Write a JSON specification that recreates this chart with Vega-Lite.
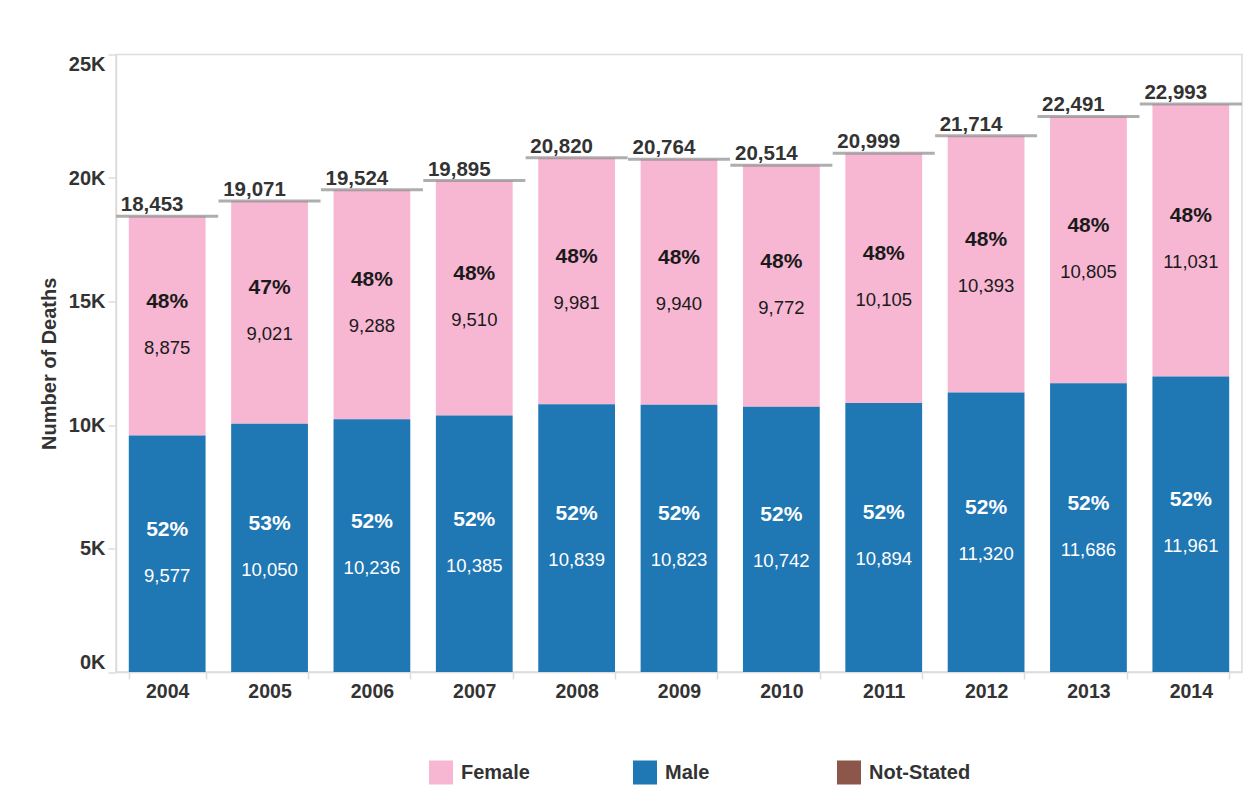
{
  "$schema": "https://vega.github.io/schema/vega-lite/v6.json",
  "width": 1126,
  "height": 617.5,
  "autosize": "none",
  "padding": {"left": 116, "top": 54.5, "right": 7, "bottom": 134},
  "background": "white",
  "config": {
    "font": "Liberation Sans",
    "view": {"stroke": "#dcdcdc", "strokeWidth": 1.5},
    "axis": {"labelColor": "#333333", "titleColor": "#333333", "labelFontWeight": "bold", "titleFontWeight": "bold", "domainColor": "#dcdcdc", "tickColor": "#dcdcdc", "domainWidth": 1.5, "tickWidth": 1.5, "grid": false}
  },
  "datasets": {
    "segments": [
      {"year": "2004", "sex": "Female", "count": 8875, "pct": "48%"},
      {"year": "2004", "sex": "Male", "count": 9577, "pct": "52%"},
      {"year": "2005", "sex": "Female", "count": 9021, "pct": "47%"},
      {"year": "2005", "sex": "Male", "count": 10050, "pct": "53%"},
      {"year": "2006", "sex": "Female", "count": 9288, "pct": "48%"},
      {"year": "2006", "sex": "Male", "count": 10236, "pct": "52%"},
      {"year": "2007", "sex": "Female", "count": 9510, "pct": "48%"},
      {"year": "2007", "sex": "Male", "count": 10385, "pct": "52%"},
      {"year": "2008", "sex": "Female", "count": 9981, "pct": "48%"},
      {"year": "2008", "sex": "Male", "count": 10839, "pct": "52%"},
      {"year": "2009", "sex": "Female", "count": 9940, "pct": "48%"},
      {"year": "2009", "sex": "Male", "count": 10823, "pct": "52%"},
      {"year": "2010", "sex": "Female", "count": 9772, "pct": "48%"},
      {"year": "2010", "sex": "Male", "count": 10742, "pct": "52%"},
      {"year": "2011", "sex": "Female", "count": 10105, "pct": "48%"},
      {"year": "2011", "sex": "Male", "count": 10894, "pct": "52%"},
      {"year": "2012", "sex": "Female", "count": 10393, "pct": "48%"},
      {"year": "2012", "sex": "Male", "count": 11320, "pct": "52%"},
      {"year": "2013", "sex": "Female", "count": 10805, "pct": "48%"},
      {"year": "2013", "sex": "Male", "count": 11686, "pct": "52%"},
      {"year": "2014", "sex": "Female", "count": 11031, "pct": "48%"},
      {"year": "2014", "sex": "Male", "count": 11961, "pct": "52%"}
    ],
    "totals": [
      {"year": "2004", "total": 18453},
      {"year": "2005", "total": 19071},
      {"year": "2006", "total": 19524},
      {"year": "2007", "total": 19895},
      {"year": "2008", "total": 20820},
      {"year": "2009", "total": 20764},
      {"year": "2010", "total": 20514},
      {"year": "2011", "total": 20999},
      {"year": "2012", "total": 21714},
      {"year": "2013", "total": 22491},
      {"year": "2014", "total": 22993}
    ]
  },
  "encoding": {
    "x": {
      "field": "year", "type": "ordinal",
      "scale": {"paddingInner": 0.25, "paddingOuter": 0.125},
      "axis": {"title": null, "labelAngle": 0, "labelFontSize": 19.5, "labelPadding": 3, "tickBand": "extent", "tickSize": 7}
    }
  },
  "layer": [
    {
      "data": {"name": "segments"},
      "mark": {"type": "bar"},
      "encoding": {
        "y": {
          "field": "count", "type": "quantitative", "stack": "zero",
          "scale": {"domain": [0, 25000], "nice": false},
          "axis": {"title": "Number of Deaths", "titleFontSize": 20, "titlePadding": 9, "labelFontSize": 20, "values": [0, 5000, 10000, 15000, 20000, 25000], "labelExpr": "(datum.value/1000) + 'K'", "labelFlush": true, "tickSize": 8, "labelPadding": 3}
        },
        "color": {
          "field": "sex", "type": "nominal",
          "scale": {"domain": ["Female", "Male", "Not-Stated"], "range": ["#f7b6d2", "#1f77b4", "#8c564b"]},
          "legend": {"title": null, "orient": "none", "legendX": 313, "legendY": 706, "direction": "horizontal", "columns": 3, "gridAlign": "all", "columnPadding": 70, "symbolType": "square", "symbolSize": 576, "symbolStrokeWidth": 0, "labelFontSize": 20, "labelFontWeight": "bold", "labelColor": "#333333", "labelOffset": 8}
        },
        "order": {"field": "sex", "sort": "descending"}
      }
    },
    {
      "data": {"name": "totals"},
      "mark": {"type": "tick", "size": 102, "thickness": 3, "color": "#8c8c8c"},
      "encoding": {
        "y": {"field": "total", "type": "quantitative"}
      }
    },
    {
      "data": {"name": "totals"},
      "mark": {"type": "text", "align": "left", "baseline": "alphabetic", "dx": -8, "dy": -5, "fontSize": 20.5, "fontWeight": "bold", "color": "#333333"},
      "encoding": {
        "x": {"field": "year", "type": "ordinal", "bandPosition": 0},
        "y": {"field": "total", "type": "quantitative"},
        "text": {"field": "total", "type": "quantitative", "format": ","}
      }
    },
    {
      "data": {"name": "segments"},
      "transform": [
        {"stack": "count", "groupby": ["year"], "sort": [{"field": "sex", "order": "descending"}], "as": ["y0", "y1"]},
        {"calculate": "(datum.y0 + datum.y1) / 2", "as": "mid"}
      ],
      "mark": {"type": "text", "baseline": "middle", "dy": -24, "fontSize": 21, "fontWeight": "bold"},
      "encoding": {
        "y": {"field": "mid", "type": "quantitative"},
        "text": {"field": "pct"},
        "color": {"condition": {"test": "datum.sex === 'Male'", "value": "#ffffff"}, "value": "#1a1a1a"}
      }
    },
    {
      "data": {"name": "segments"},
      "transform": [
        {"stack": "count", "groupby": ["year"], "sort": [{"field": "sex", "order": "descending"}], "as": ["y0", "y1"]},
        {"calculate": "(datum.y0 + datum.y1) / 2", "as": "mid"}
      ],
      "mark": {"type": "text", "baseline": "middle", "dy": 22, "fontSize": 18.5},
      "encoding": {
        "y": {"field": "mid", "type": "quantitative"},
        "text": {"field": "count", "type": "quantitative", "format": ","},
        "color": {"condition": {"test": "datum.sex === 'Male'", "value": "#ffffff"}, "value": "#1a1a1a"}
      }
    }
  ]
}
